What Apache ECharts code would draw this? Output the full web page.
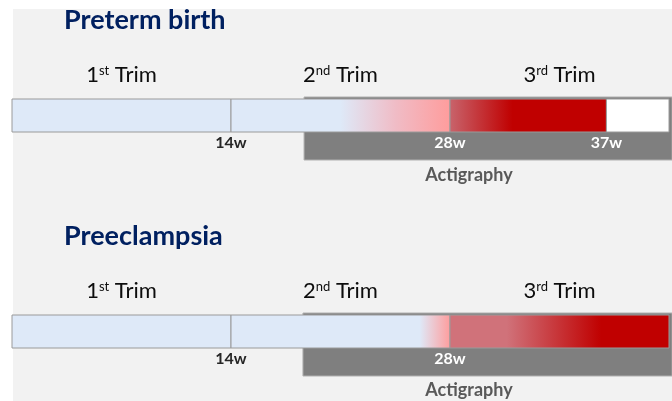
<!DOCTYPE html>
<html>
<head>
<meta charset="utf-8">
<script src="https://cdn.jsdelivr.net/npm/echarts@6/dist/echarts.min.js"></script>
<style>
  html, body { margin: 0; padding: 0; background: #ffffff; }
  #chart { width: 672px; height: 401px; }
</style>
</head>
<body>
<div id="chart"></div>
<script>
// 数据：孕周（weeks）
const panelTitles = ['Preterm birth', 'Preeclampsia']
const trimLabels = ['{n|1}{s|st}{n| Trim}', '{n|2}{s|nd}{n| Trim}', '{n|3}{s|rd}{n| Trim}']
const trimCenters = [7, 21, 35]
const pretermBounds = [0, 14, 28, 38, 42]
const preeclampsiaBounds = [0, 14, 28, 42]
const pretermMarks = [14, 28, 38]
const pretermMarkLabels = ['14w', '28w', '37w']
const preeclampsiaMarks = [14, 28]
const preeclampsiaMarkLabels = ['14w', '28w']
const actigraphy = [[18.67, 42.2], [18.6, 42.2]]

const LG = echarts.graphic.LinearGradient
const blue = '#dee9f8'
const red = '#c00000'
const FONT = 'Lato, "Open Sans", sans-serif'

// 每段的渐变色
const pretermFills = [
  blue,
  new LG(0, 0, 1, 0, [
    { offset: 0, color: blue },
    { offset: 0.5, color: blue },
    { offset: 0.75, color: '#f0bcc6' },
    { offset: 1, color: '#ff9c9c' }
  ]),
  new LG(0, 0, 1, 0, [
    { offset: 0, color: '#c8646c' },
    { offset: 0.4, color: red },
    { offset: 1, color: red }
  ]),
  '#ffffff'
]
const preeclampsiaFills = [
  blue,
  new LG(0, 0, 1, 0, [
    { offset: 0, color: blue },
    { offset: 0.86, color: blue },
    { offset: 1, color: '#ff9c9c' }
  ]),
  new LG(0, 0, 1, 0, [
    { offset: 0, color: '#d0727a' },
    { offset: 0.26, color: '#d0727a' },
    { offset: 0.69, color: red },
    { offset: 1, color: red }
  ])
]

const toSegments = (bounds) => bounds.slice(0, -1).map((b, i) => [b, bounds[i + 1]])

const chart = echarts.init(document.getElementById('chart'))

const segmentItem = (fills) => (params, api) => {
  const a = api.coord([api.value(0), 1])
  const b = api.coord([api.value(1), 0])
  return {
    type: 'rect',
    shape: { x: a[0], y: a[1], width: b[0] - a[0], height: b[1] - a[1] },
    style: { fill: fills[params.dataIndex], stroke: '#9a9a9a', lineWidth: 1 }
  }
}

const actigraphyItem = (params, api) => {
  const a = api.coord([api.value(0), 1])
  const b = api.coord([api.value(1), 0])
  return {
    type: 'rect',
    shape: { x: a[0], y: a[1] - 2, width: b[0] - a[0], height: b[1] - a[1] + 30 },
    style: { fill: '#7f7f7f', stroke: '#b0b0b0', lineWidth: 1 }
  }
}

const markItem = (labels) => (params, api) => {
  const p = api.coord([api.value(0), 0])
  return {
    type: 'text',
    x: p[0],
    y: p[1] + 11,
    style: {
      text: labels[params.dataIndex],
      fill: params.dataIndex === 0 ? '#262626' : '#ffffff',
      font: 'bold 16px ' + FONT,
      align: 'center',
      verticalAlign: 'middle'
    }
  }
}

const trimItem = (params, api) => {
  const p = api.coord([api.value(0), 1])
  return {
    type: 'text',
    x: p[0],
    y: p[1] - 24,
    style: {
      text: trimLabels[params.dataIndex],
      fill: '#0d0d0d',
      align: 'center',
      verticalAlign: 'middle',
      rich: {
        n: { fontSize: 22, fontFamily: FONT, fill: '#0d0d0d' },
        s: { fontSize: 13, fontFamily: FONT, fill: '#0d0d0d', verticalAlign: 'top' }
      }
    }
  }
}

const panels = [
  { bounds: pretermBounds, fills: pretermFills, marks: pretermMarks, markLabels: pretermMarkLabels },
  { bounds: preeclampsiaBounds, fills: preeclampsiaFills, marks: preeclampsiaMarks, markLabels: preeclampsiaMarkLabels }
]

const series = []
panels.forEach((p, i) => {
  const axis = { xAxisIndex: i, yAxisIndex: i, silent: true }
  series.push({ ...axis, type: 'custom', z: 1, clip: false, renderItem: actigraphyItem, data: [actigraphy[i]] })
  series.push({ ...axis, type: 'custom', z: 2, clip: false, renderItem: segmentItem(p.fills), data: toSegments(p.bounds) })
  series.push({ ...axis, type: 'custom', z: 3, clip: false, renderItem: markItem(p.markLabels), data: p.marks.map(m => [m]) })
  series.push({ ...axis, type: 'custom', z: 3, clip: false, renderItem: trimItem, data: trimCenters.map(c => [c]) })
})

const hiddenX = (i) => ({ gridIndex: i, type: 'value', min: 0, max: 42, show: false })
const hiddenY = (i) => ({ gridIndex: i, type: 'value', min: 0, max: 1, show: false })

const titleStyle = { fill: '#002060', font: 'bold 27px ' + FONT, verticalAlign: 'middle' }
const actiStyle = { text: 'Actigraphy', fill: '#595959', font: 'bold 18px ' + FONT, align: 'center', verticalAlign: 'middle' }

const option = {
  animation: false,
  backgroundColor: '#ffffff',
  grid: [
    { left: 12, right: 3, top: 99, height: 33 },
    { left: 12, right: 3, top: 315, height: 33 }
  ],
  xAxis: [hiddenX(0), hiddenX(1)],
  yAxis: [hiddenY(0), hiddenY(1)],
  graphic: [
    { type: 'rect', z: -10, silent: true, shape: { x: 13, y: 9, width: 659, height: 392 }, style: { fill: '#f2f2f2' } },
    { type: 'text', x: 64, y: 20, style: { text: panelTitles[0], ...titleStyle } },
    { type: 'text', x: 64, y: 236, style: { text: panelTitles[1], ...titleStyle } },
    { type: 'text', x: 469, y: 175, style: actiStyle },
    { type: 'text', x: 469, y: 390, style: actiStyle }
  ],
  series
}

chart.setOption(option)
</script>
</body>
</html>
